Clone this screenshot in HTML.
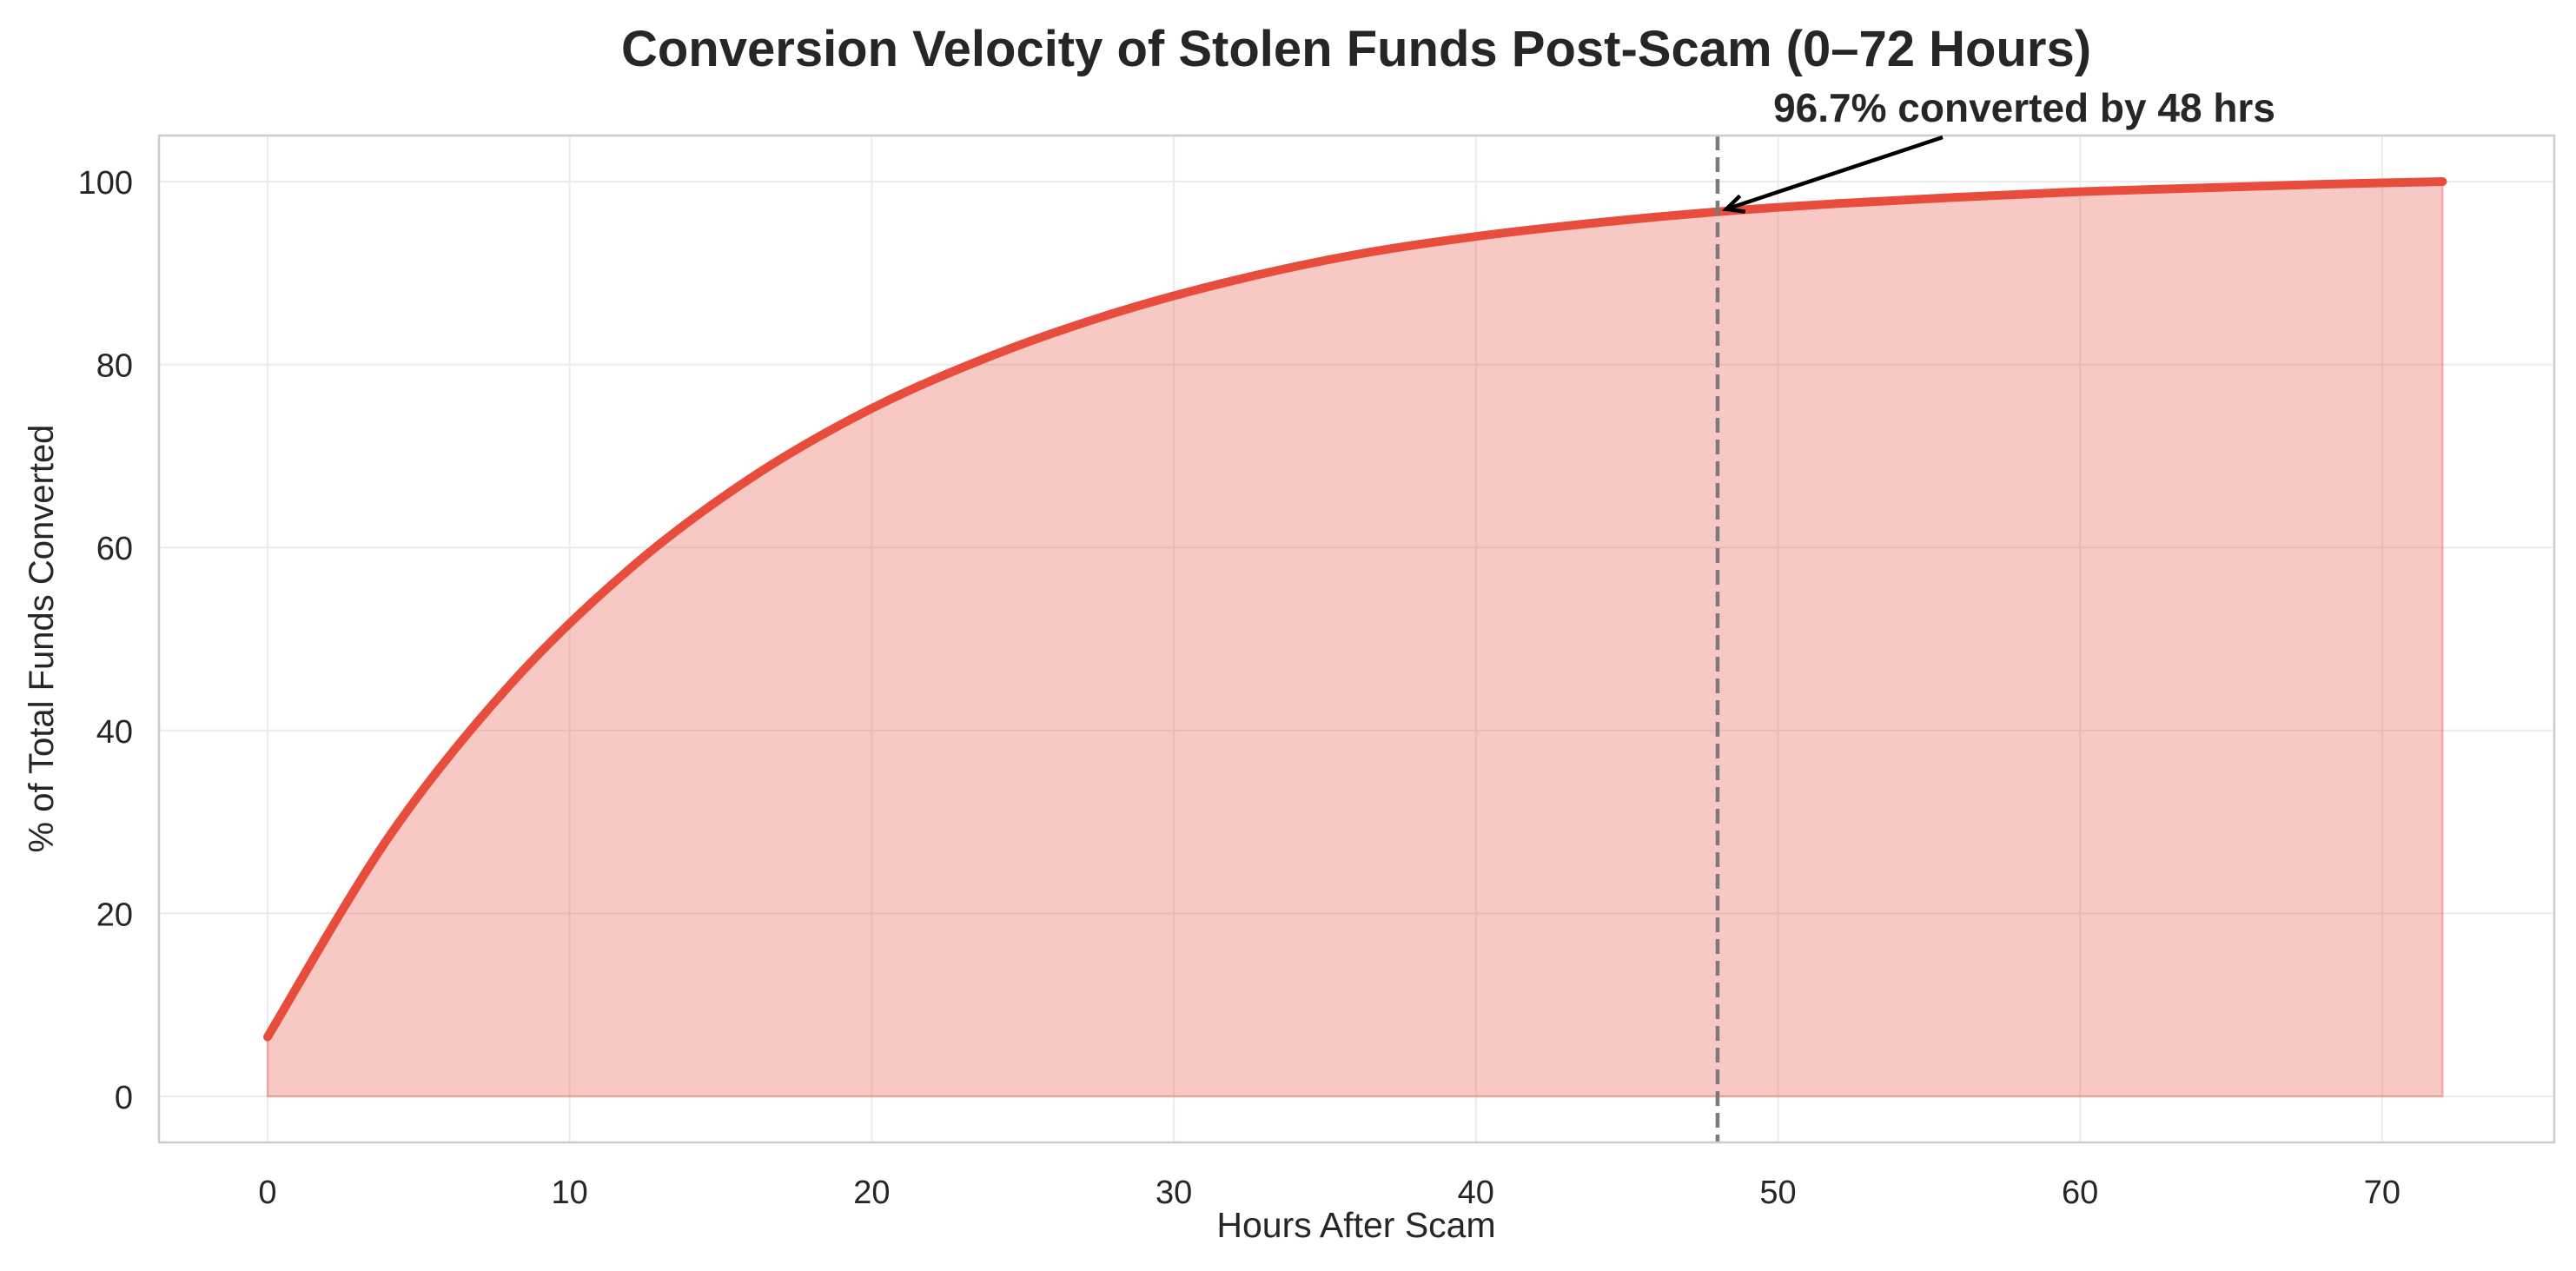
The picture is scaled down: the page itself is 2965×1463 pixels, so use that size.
<!DOCTYPE html>
<html><head><meta charset="utf-8"><style>
html,body{margin:0;padding:0;background:#fff;}
svg{display:block;font-family:"Liberation Sans",Arial,sans-serif;}
</style></head><body>
<svg id="chart" width="2965" height="1463" viewBox="0 0 2965 1463" xmlns="http://www.w3.org/2000/svg">
<text x="1561" y="76" text-anchor="middle" font-size="58" font-weight="bold" fill="#262626">Conversion Velocity of Stolen Funds Post-Scam (0–72 Hours)</text>
<g id="grid"></g>
<g id="plot"></g>
<rect x="183" y="156" width="2757" height="1159" fill="none" stroke="#cccccc" stroke-width="2.5"/>
<g id="ticks"></g>
<text x="1561" y="1424" text-anchor="middle" font-size="41" fill="#262626">Hours After Scam</text>
<text transform="translate(61,735) rotate(-90)" text-anchor="middle" font-size="40" fill="#262626">% of Total Funds Converted</text>
<g id="annot"></g>
</svg>
<script>
const hours = [0,4,8,12,16,20,24,28,32,36,40,44,48,52,56,60,64,68,72];
const converted = [6.5,28.3,44.9,57.7,67.6,75.2,81.0,85.6,89.2,92.0,94.0,95.5,96.7,97.6,98.3,98.9,99.3,99.7,100];
const xTicks = [0,10,20,30,40,50,60,70];
const yTicks = [0,20,40,60,80,100];
const markerHour = 48;
const markerValue = 96.7;
const annotationLabel = "96.7% converted by 48 hrs";

const NS = "http://www.w3.org/2000/svg";
const X = h => 308 + h * 34.77;
const Y = v => 1262 - v * 10.53;
function mk(tag, attrs, parent){const e=document.createElementNS(NS,tag);for(const k in attrs)e.setAttribute(k,attrs[k]);parent.appendChild(e);return e;}
const grid=document.getElementById('grid'), plot=document.getElementById('plot'), ticks=document.getElementById('ticks'), annot=document.getElementById('annot');

xTicks.forEach(t=>{
  const l=mk('line',{x1:X(t),x2:X(t),y1:156,y2:1315,stroke:'#ebebeb','stroke-width':2},grid);
  
  
  const tx=mk('text',{x:X(t),y:1385,'text-anchor':'middle','font-size':38,fill:'#262626'},ticks);
  tx.textContent=t;
  
  
});
yTicks.forEach(t=>{
  const l=mk('line',{x1:183,x2:2940,y1:Y(t),y2:Y(t),stroke:'#ebebeb','stroke-width':2},grid);
  
  
  const tx=mk('text',{x:153,y:Y(t)+14,'text-anchor':'end','font-size':38,fill:'#262626'},ticks);
  tx.textContent=t;
  
  
});

const pts=hours.map((h,i)=>[X(h),Y(converted[i])]);
let d=`M${pts[0][0]},${pts[0][1]}`;
for(let i=0;i<pts.length-1;i++){
  const p0=pts[Math.max(0,i-1)],p1=pts[i],p2=pts[i+1],p3=pts[Math.min(pts.length-1,i+2)];
  const c1=[p1[0]+(p2[0]-p0[0])/6,p1[1]+(p2[1]-p0[1])/6];
  const c2=[p2[0]-(p3[0]-p1[0])/6,p2[1]-(p3[1]-p1[1])/6];
  d+=` C${c1[0]},${c1[1]} ${c2[0]},${c2[1]} ${p2[0]},${p2[1]}`;
}
const last=pts[pts.length-1];
const area=mk('path',{d:d+` L${last[0]},${Y(0)} L${pts[0][0]},${Y(0)} Z`,fill:'rgba(231,76,60,0.3)',stroke:'rgba(231,76,60,0.35)','stroke-width':2.5},plot);


const line=mk('path',{d:d,fill:'none',stroke:'#e74c3c','stroke-width':10,'stroke-linecap':'round','stroke-linejoin':'round'},plot);



const vl=mk('line',{x1:X(markerHour),x2:X(markerHour),y1:156,y2:1315,stroke:'#7a7a7a','stroke-width':4.5,'stroke-dasharray':'17,8'},plot);



const ax=X(markerHour)+10, ay=Y(markerValue)-3, sx=2236, sy=158;
const ar=mk('line',{x1:sx,y1:sy,x2:ax,y2:ay,stroke:'#000','stroke-width':4.5},annot);


const ang=Math.atan2(ay-sy,ax-sx);
const hx=(a)=>ax-22*Math.cos(ang+a), hy=(a)=>ay-22*Math.sin(ang+a);
const ah=mk('polyline',{points:`${hx(0.45)},${hy(0.45)} ${ax},${ay} ${hx(-0.45)},${hy(-0.45)}`,fill:'none',stroke:'#000','stroke-width':4.5},annot);


const at=mk('text',{x:2330,y:140,'text-anchor':'middle','font-size':46,'font-weight':'bold',fill:'#262626'},annot);
at.textContent=annotationLabel;


</script>
</body></html>
